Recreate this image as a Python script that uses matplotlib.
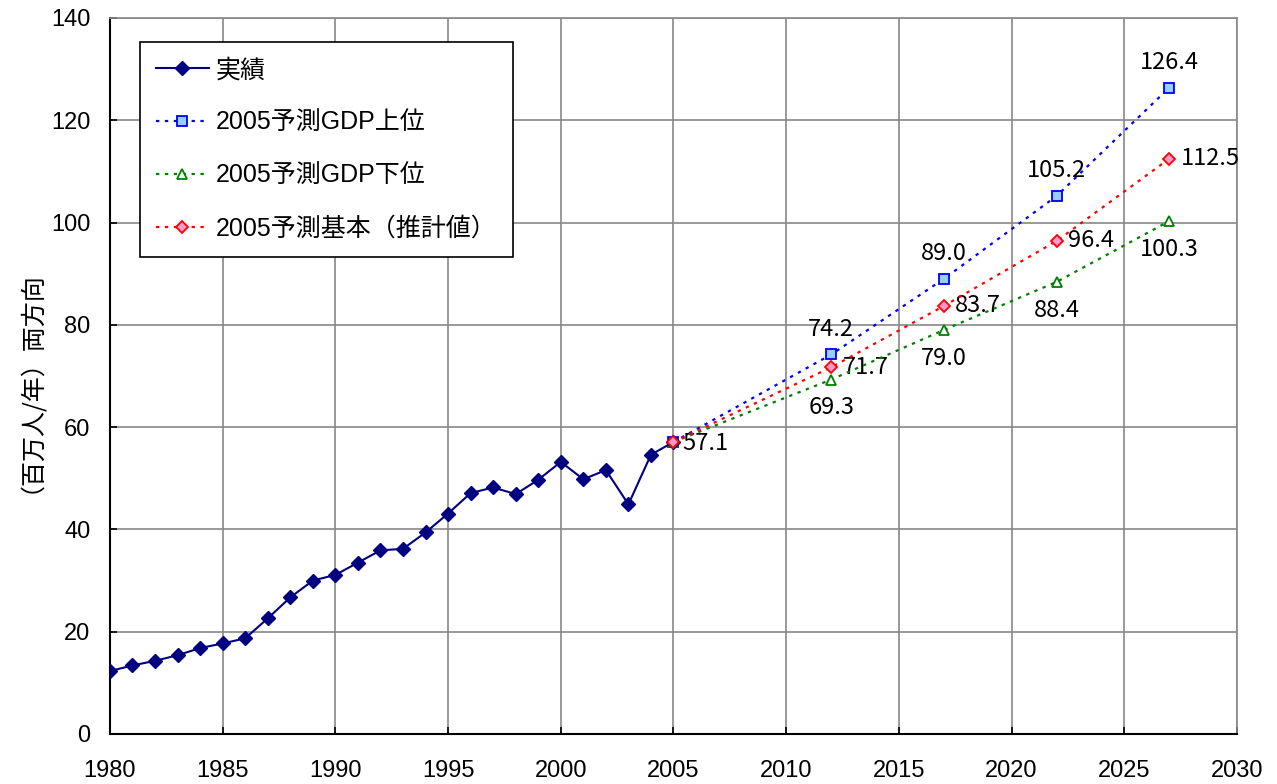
import matplotlib
matplotlib.use("Agg")
import matplotlib.pyplot as plt

plt.rcParams["font.family"] = ["Liberation Sans", "Noto Sans CJK JP"]
plt.rcParams["xtick.major.pad"] = 19
plt.rcParams["ytick.major.pad"] = 14

# 実績
years = list(range(1980, 2006))
actual = [12.3, 13.4, 14.3, 15.4, 16.8, 17.7, 18.7, 22.6, 26.7, 30.0,
          31.1, 33.5, 35.9, 36.2, 39.4, 43.1, 47.1, 48.2, 46.9, 49.7,
          53.2, 49.8, 51.6, 44.9, 54.6, 57.1]

# 2005予測
fc_years = [2005, 2012, 2017, 2022, 2027]
fc_high = [57.1, 74.2, 89.0, 105.2, 126.4]
fc_low = [57.1, 69.3, 79.0, 88.4, 100.3]
fc_base = [57.1, 71.7, 83.7, 96.4, 112.5]

fig = plt.figure(figsize=(12.77, 7.84), dpi=100)
ax = fig.add_axes([0.0861, 0.0638, 0.8826, 0.9133])

ax.plot(years, actual, color="#000080", lw=1.5, marker="D", ms=7,
        mfc="#000080", mec="#000080", label="実績", zorder=5)
ax.plot(fc_years, fc_high, color="#0000FF", lw=1.6, ls=(0, (1.5, 2.5)),
        marker="s", ms=7, mfc="#99CCFF", mec="#0000FF", mew=1.3,
        label="2005予測GDP上位", zorder=4)
ax.plot(fc_years, fc_low, color="#008000", lw=1.6, ls=(0, (1.5, 2.5)),
        marker="^", ms=7, mfc="white", mec="#008000", mew=1.3,
        label="2005予測GDP下位", zorder=4)
ax.plot(fc_years, fc_base, color="#FF0000", lw=1.6, ls=(0, (1.5, 2.5)),
        marker="D", ms=6, mfc="#FF99CC", mec="#FF0000", mew=1.3,
        label="2005予測基本（推計値）", zorder=6)

lbl_font = dict(family=["Liberation Sans Narrow", "Noto Sans CJK JP"], fontsize=17)

# 2005 基点
ax.annotate(f"{fc_base[0]:.1f}", (fc_years[0], fc_base[0]), xytext=(6, -1),
            textcoords="offset points", ha="left", va="center", **lbl_font)
for x, v in zip(fc_years[1:], fc_high[1:]):
    ax.annotate(f"{v:.1f}", (x, v), xytext=(0, 10), textcoords="offset points",
                ha="center", va="bottom", **lbl_font)
for x, v in zip(fc_years[1:], fc_base[1:]):
    ax.annotate(f"{v:.1f}", (x, v), xytext=(8, 0), textcoords="offset points",
                ha="left", va="center", **lbl_font)
for x, v in zip(fc_years[1:], fc_low[1:]):
    ax.annotate(f"{v:.1f}", (x, v), xytext=(0, -12), textcoords="offset points",
                ha="center", va="top", **lbl_font)

ax.set_xlim(1980, 2030)
ax.set_ylim(0, 140)
ax.set_xticks(range(1980, 2031, 5))
ax.set_yticks(range(0, 141, 20))
ax.tick_params(labelsize=17, direction="in", length=5, width=1.2, color="black")
ax.grid(True, color="#888888", lw=1.2)
ax.set_axisbelow(True)

for side in ["top", "right"]:
    ax.spines[side].set_color("#888888")
    ax.spines[side].set_linewidth(1.2)
for side in ["left", "bottom"]:
    ax.spines[side].set_color("black")
    ax.spines[side].set_linewidth(1.5)

ax.set_ylabel("（百万人/年）両方向", fontsize=18,
              family=["Noto Sans CJK JP", "DejaVu Sans"])
ax.yaxis.set_label_coords(-0.070, 0.5)

leg = ax.legend(loc="upper left", bbox_to_anchor=(0.0266, 0.9665),
                borderaxespad=0, fancybox=False, framealpha=1,
                edgecolor="black", handlelength=2.1, borderpad=0.65,
                labelspacing=1.15, handletextpad=0.3,
                prop={"family": ["Liberation Sans", "Noto Sans CJK JP"], "size": 18})
leg.get_frame().set_linewidth(1.2)

fig.savefig("out.png", dpi=100)
